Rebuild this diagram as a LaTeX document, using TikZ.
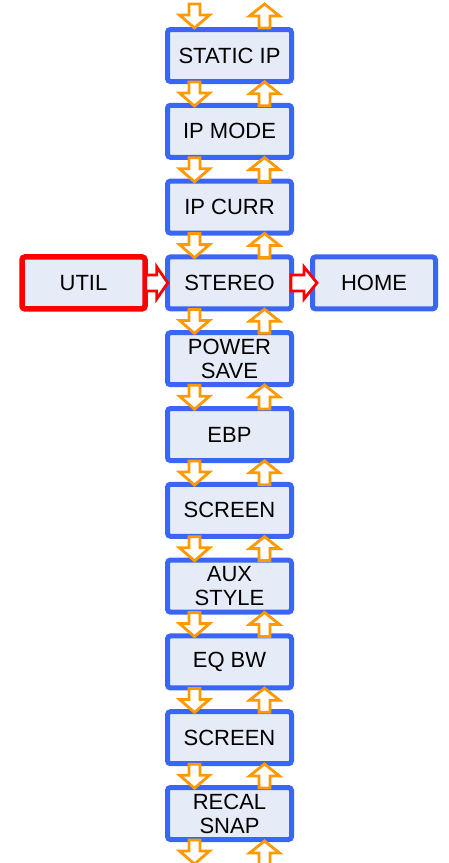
\documentclass[tikz,border=0pt]{standalone}
\usepackage{fontspec}
\setmainfont{Liberation Sans}
\usetikzlibrary{calc}
\definecolor{boxblue}{RGB}{59,102,245}
\definecolor{boxfill}{RGB}{230,236,247}
\definecolor{arrorange}{RGB}{255,153,0}
\definecolor{boxred}{RGB}{255,0,0}
\begin{document}
\begin{tikzpicture}[x=1pt,y=-1pt,
  menubox/.style={draw=boxblue, line width=5pt, fill=boxfill, rounded corners=3pt,
    minimum width=124pt, minimum height=52pt, inner sep=0pt,
    font=\fontsize{22}{24}\selectfont, align=center},
  sidebox/.style={menubox, minimum width=123pt},
  redbox/.style={sidebox, draw=boxred, line width=5.5pt},
  arrowline/.style={draw=arrorange, line width=2.8pt, fill=white, line join=miter},
  redarrowline/.style={draw=boxred, line width=2.8pt, fill=white, line join=miter},
  darrow/.pic={\path[arrowline] (-5.5,0) -- (5.5,0) -- (5.5,11) -- (15,11) -- (0,24) -- (-15,11) -- (-5.5,11) -- cycle;},
  uarrow/.pic={\path[arrowline] (-5.5,0) -- (5.5,0) -- (5.5,-12) -- (15,-12) -- (0,-24) -- (-15,-12) -- (-5.5,-12) -- cycle;},
  rarrow/.pic={\path[redarrowline] (0,-8) -- (#1/2,-8) -- (#1/2,-16) -- (#1,0) -- (#1/2,16) -- (#1/2,8) -- (0,8) -- cycle;}
]
\useasboundingbox (0,0) rectangle (449,863);
\foreach \txt [count=\i from 0] in {STATIC IP, IP MODE, IP CURR, STEREO, POWER\\SAVE, EBP, SCREEN, AUX\\STYLE, EQ BW, SCREEN, RECAL\\SNAP}{
  \node[menubox] (b\i) at (229.5, 55.5+75.8*\i) {\txt};
}
\node[redbox] (util) at (83.5, 282.9) {UTIL};
\node[sidebox] (home) at (374, 282.9) {HOME};
% top arrows
\pic at ($(b0.north)+(-35,-23)$) {darrow};
\pic at ($(b0.north)+(35,1)$) {uarrow};
% arrows between boxes
\foreach \i [evaluate=\i as \j using int(\i+1)] in {0,...,9}{
  \pic at ($(b\i.south)+(-35,-2)$) {darrow};
  \pic at ($(b\j.north)+(35,3)$) {uarrow};
}
% bottom arrows
\pic at ($(b10.south)+(-35,-2)$) {darrow};
\pic at ($(b10.south)+(35,23)$) {uarrow};
% side arrows
\pic at ($(util.east)+(-2,0)$) {rarrow=22};
\pic at ($(b3.east)+(-3,0)$) {rarrow=26};
\end{tikzpicture}
\end{document}
